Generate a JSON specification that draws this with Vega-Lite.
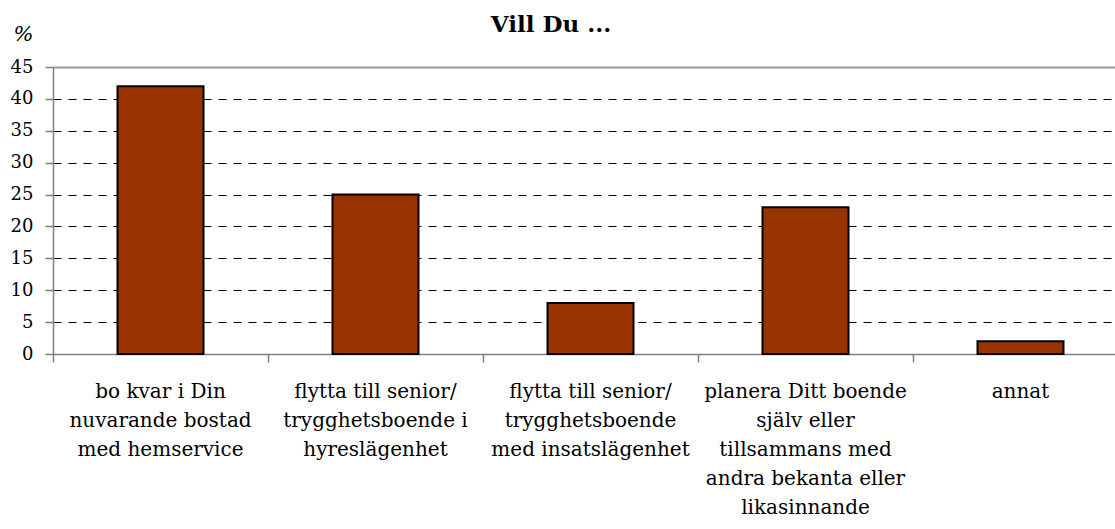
{
  "$schema": "https://vega.github.io/schema/vega-lite/v6.json",
  "autosize": "none",
  "width": 1062,
  "height": 287,
  "padding": {"left": 53, "top": 67, "right": 0, "bottom": 175},
  "background": "white",
  "title": {
    "text": "Vill Du ...",
    "font": "DejaVu Serif",
    "fontSize": 23,
    "fontWeight": "bold",
    "color": "black",
    "anchor": "middle",
    "dx": -33,
    "offset": -14
  },
  "data": {
    "values": [
      {"alt": "bo kvar i Din|nuvarande bostad|med hemservice", "pct": 42},
      {"alt": "flytta till senior/|trygghetsboende i|hyreslägenhet", "pct": 25},
      {"alt": "flytta till senior/|trygghetsboende|med insatslägenhet", "pct": 8},
      {"alt": "planera Ditt boende|själv eller|tillsammans med|andra bekanta eller|likasinnande", "pct": 23},
      {"alt": "annat", "pct": 2}
    ]
  },
  "mark": {"type": "bar", "fill": "#993300", "stroke": "black", "strokeWidth": 2, "width": {"band": 0.4}},
  "encoding": {
    "x": {
      "field": "alt",
      "type": "nominal",
      "sort": null,
      "scale": {"range": [0, 1075], "paddingInner": 0, "paddingOuter": 0},
      "axis": {
        "title": null,
        "labelAngle": 0,
        "labelExpr": "split(datum.value, '|')",
        "labelFont": "DejaVu Serif",
        "labelFontSize": 20,
        "labelLineHeight": 29,
        "labelColor": "black",
        "labelPadding": 19,
        "labelBaseline": "top",
        "bandPosition": 0,
        "tickSize": 8,
        "tickColor": "#808080",
        "tickWidth": 1.5,
        "domainColor": "#808080",
        "domainWidth": 1.5,
        "grid": false,
        "labelLimit": 0
      }
    },
    "y": {
      "field": "pct",
      "type": "quantitative",
      "scale": {"domain": [0, 45], "nice": false},
      "axis": {
        "values": [0, 5, 10, 15, 20, 25, 30, 35, 40, 45],
        "title": "%",
        "titleAngle": 0,
        "titleX": -30,
        "titleY": -27,
        "titleAlign": "center",
        "titleBaseline": "alphabetic",
        "titleFont": "DejaVu Serif",
        "titleFontSize": 21,
        "titleFontStyle": "italic",
        "titleFontWeight": "normal",
        "titleColor": "black",
        "labelFont": "DejaVu Serif",
        "labelFontSize": 18,
        "labelColor": "black",
        "labelPadding": 12,
        "tickSize": 8,
        "tickColor": "#808080",
        "tickWidth": 1.5,
        "domainColor": "#808080",
        "domainWidth": 1.5,
        "grid": true,
        "gridColor": {"condition": {"test": "datum.value == 45", "value": "#999999"}, "value": "black"},
        "gridDash": {"condition": {"test": "datum.value == 45", "value": []}, "value": [8, 7]},
        "gridWidth": {"condition": {"test": "datum.value == 45", "value": 2}, "value": 1}
      }
    }
  },
  "config": {"view": {"stroke": null}}
}
